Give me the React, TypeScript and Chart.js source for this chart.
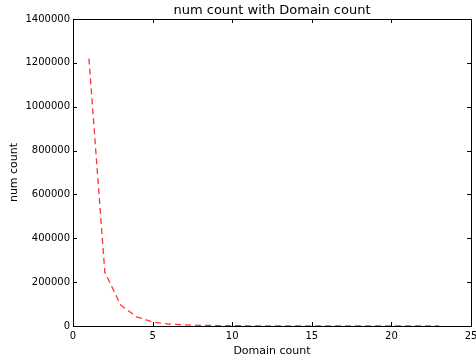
import React, { useEffect, useRef } from "react";
import { Chart, registerables } from "chart.js";

Chart.register(...registerables);

const domainCounts = [1, 2, 3, 4, 5, 6, 7, 8, 9, 10, 11, 12, 13, 14, 15, 16, 17, 18, 19, 20, 21, 22, 23];
const numCounts = [1220000, 245000, 95000, 42000, 18000, 9000, 5000, 3000, 2000, 1500, 1000, 800, 600, 500, 400, 300, 250, 200, 150, 120, 100, 80, 60];
const xTickStep = 5;
const yTickStep = 200000;
const xRange = [0, 25];
const yRange = [0, 1400000];
const chartTitle = "num count with Domain count";

const FONT = "'DejaVu Sans', sans-serif";

const boxTicksPlugin = {
  id: "boxTicks",
  afterDatasetsDraw(chart: any) {
    const { ctx, chartArea } = chart;
    const { left, right, top, bottom } = chartArea;
    const xs = chart.scales.x;
    const ys = chart.scales.y;
    const len = 4;
    ctx.save();
    ctx.strokeStyle = "#000";
    ctx.lineWidth = 1;
    ctx.beginPath();
    xs.ticks.forEach((t: any) => {
      const px = Math.round(xs.getPixelForValue(t.value)) + 0.5;
      ctx.moveTo(px, bottom);
      ctx.lineTo(px, bottom - len);
      ctx.moveTo(px, top);
      ctx.lineTo(px, top + len);
    });
    ys.ticks.forEach((t: any) => {
      const py = Math.round(ys.getPixelForValue(t.value)) + 0.5;
      ctx.moveTo(left, py);
      ctx.lineTo(left + len, py);
      ctx.moveTo(right, py);
      ctx.lineTo(right - len, py);
    });
    ctx.stroke();
    ctx.strokeRect(Math.round(left) + 0.5, Math.round(top) + 0.5, Math.round(right - left), Math.round(bottom - top));
    ctx.fillStyle = "#000";
    ctx.font = `13px ${FONT}`;
    ctx.textAlign = "center";
    ctx.textBaseline = "middle";
    ctx.fillText(chartTitle, (left + right) / 2, 11);
    ctx.restore();
  },
};

export default function App() {
  const canvasRef = useRef<HTMLCanvasElement | null>(null);

  useEffect(() => {
    document.body.style.margin = "0";
    const canvas = canvasRef.current;
    if (!canvas) return;
    const chart = new Chart(canvas, {
      type: "line",
      data: {
        datasets: [
          {
            data: domainCounts.map((x, i) => ({ x, y: numCounts[i] })),
            borderColor: "rgba(255,0,0,0.8)",
            borderWidth: 1.3,
            borderDash: [6, 4],
            pointRadius: 0,
            tension: 0,
            fill: false,
          },
        ],
      },
      options: {
        animation: false,
        responsive: true,
        maintainAspectRatio: false,
        layout: { padding: { left: 0, right: 5, top: 19, bottom: 0 } },
        plugins: {
          legend: { display: false },
          tooltip: { enabled: false },
          title: { display: false },
        },
        scales: {
          x: {
            type: "linear",
            min: xRange[0],
            max: xRange[1],
            grid: { display: false, drawTicks: false },
            border: { display: false },
            ticks: {
              stepSize: xTickStep,
              color: "#000",
              font: { family: FONT, size: 10 },
              padding: 4,
              maxRotation: 0,
            },
            title: {
              display: true,
              text: "Domain count",
              color: "#000",
              font: { family: FONT, size: 11 },
              padding: { top: 0, bottom: 2.4 },
            },
            afterFit: (scale: any) => {
              scale.height = 34;
              scale.paddingLeft = 0;
              scale.paddingRight = 0;
            },
          },
          y: {
            type: "linear",
            min: yRange[0],
            max: yRange[1],
            grid: { display: false, drawTicks: false },
            border: { display: false },
            ticks: {
              stepSize: yTickStep,
              color: "#000",
              font: { family: FONT, size: 10 },
              padding: 3,
              callback: (v: any) => String(v),
            },
            title: {
              display: true,
              text: "num count",
              color: "#000",
              font: { family: FONT, size: 11 },
              padding: { top: 7.4, bottom: 0 },
            },
            afterFit: (scale: any) => {
              scale.width = 73;
              scale.paddingTop = 0;
              scale.paddingBottom = 0;
            },
          },
        },
      },
      plugins: [boxTicksPlugin],
    });
    return () => chart.destroy();
  }, []);

  return (
    <div style={{ position: "absolute", left: 0, top: 0, width: 476, height: 360, background: "#fff" }}>
      <canvas ref={canvasRef} />
    </div>
  );
}
